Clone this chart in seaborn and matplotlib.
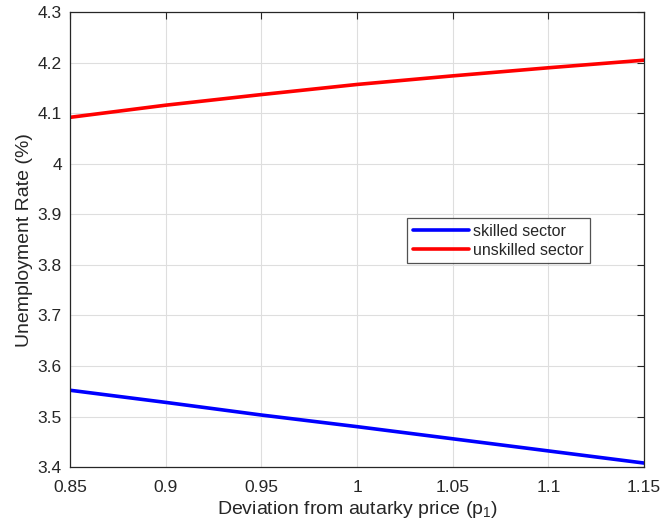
import numpy as np
import pandas as pd
import seaborn as sns
import matplotlib.pyplot as plt

# values
price = [0.85, 0.90, 0.95, 1.00, 1.05, 1.10, 1.15]
skilled = [3.552, 3.528, 3.503, 3.480, 3.456, 3.432, 3.408]
unskilled = [4.092, 4.116, 4.137, 4.157, 4.174, 4.190, 4.205]
sectors = ['skilled sector', 'unskilled sector']

df = pd.DataFrame({
    'price': price * 2,
    'rate': skilled + unskilled,
    'sector': [sectors[0]] * len(price) + [sectors[1]] * len(price),
})

sns.set_style('white')
plt.rcParams['font.family'] = ['Liberation Sans', 'DejaVu Sans']
plt.rcParams['mathtext.fontset'] = 'custom'
plt.rcParams['mathtext.rm'] = 'Liberation Sans'
plt.rcParams['mathtext.it'] = 'Liberation Sans'

fig = plt.figure(figsize=(6.62, 5.29), dpi=100)
ax = fig.add_axes([0.106, 0.117, 0.867, 0.86])
sns.lineplot(x='price', y='rate', hue='sector', data=df, ax=ax,
             palette={'skilled sector': '#0000ff', 'unskilled sector': '#ff0000'},
             linewidth=2.6)

ax.set_xlim(0.85, 1.15)
ax.set_ylim(3.4, 4.3)
ax.set_xticks(np.arange(0.85, 1.151, 0.05))
ax.set_xticklabels(['0.85', '0.9', '0.95', '1', '1.05', '1.1', '1.15'])
ax.set_yticks(np.arange(3.4, 4.301, 0.1))
ax.set_yticklabels(['3.4', '3.5', '3.6', '3.7', '3.8', '3.9', '4', '4.1', '4.2', '4.3'])
ax.grid(True, color='#dedede', linewidth=0.8)
ax.tick_params(direction='in', length=5, labelsize=12.5, colors='#262626',
               top=True, right=True)
ax.tick_params(axis='x', pad=9)
ax.tick_params(axis='y', pad=6)
for s in ax.spines.values():
    s.set_color('#262626')
    s.set_linewidth(0.9)

ax.set_xlabel('Deviation from autarky price (p$_1$)', fontsize=14, color='#262626',
              labelpad=3)
ax.set_ylabel('Unemployment Rate (%)', fontsize=14, color='#262626', labelpad=3)

leg = ax.legend(loc='upper left', bbox_to_anchor=(0.587, 0.547), fontsize=11.5,
                frameon=True, fancybox=False, borderpad=0.35, handlelength=3.5,
                labelspacing=0.25, handletextpad=0.3, borderaxespad=0)
leg.get_frame().set_edgecolor('#262626')
leg.get_frame().set_linewidth(0.9)
for line in leg.get_lines():
    line.set_linewidth(2.6)

plt.savefig('out.png', dpi=100)
